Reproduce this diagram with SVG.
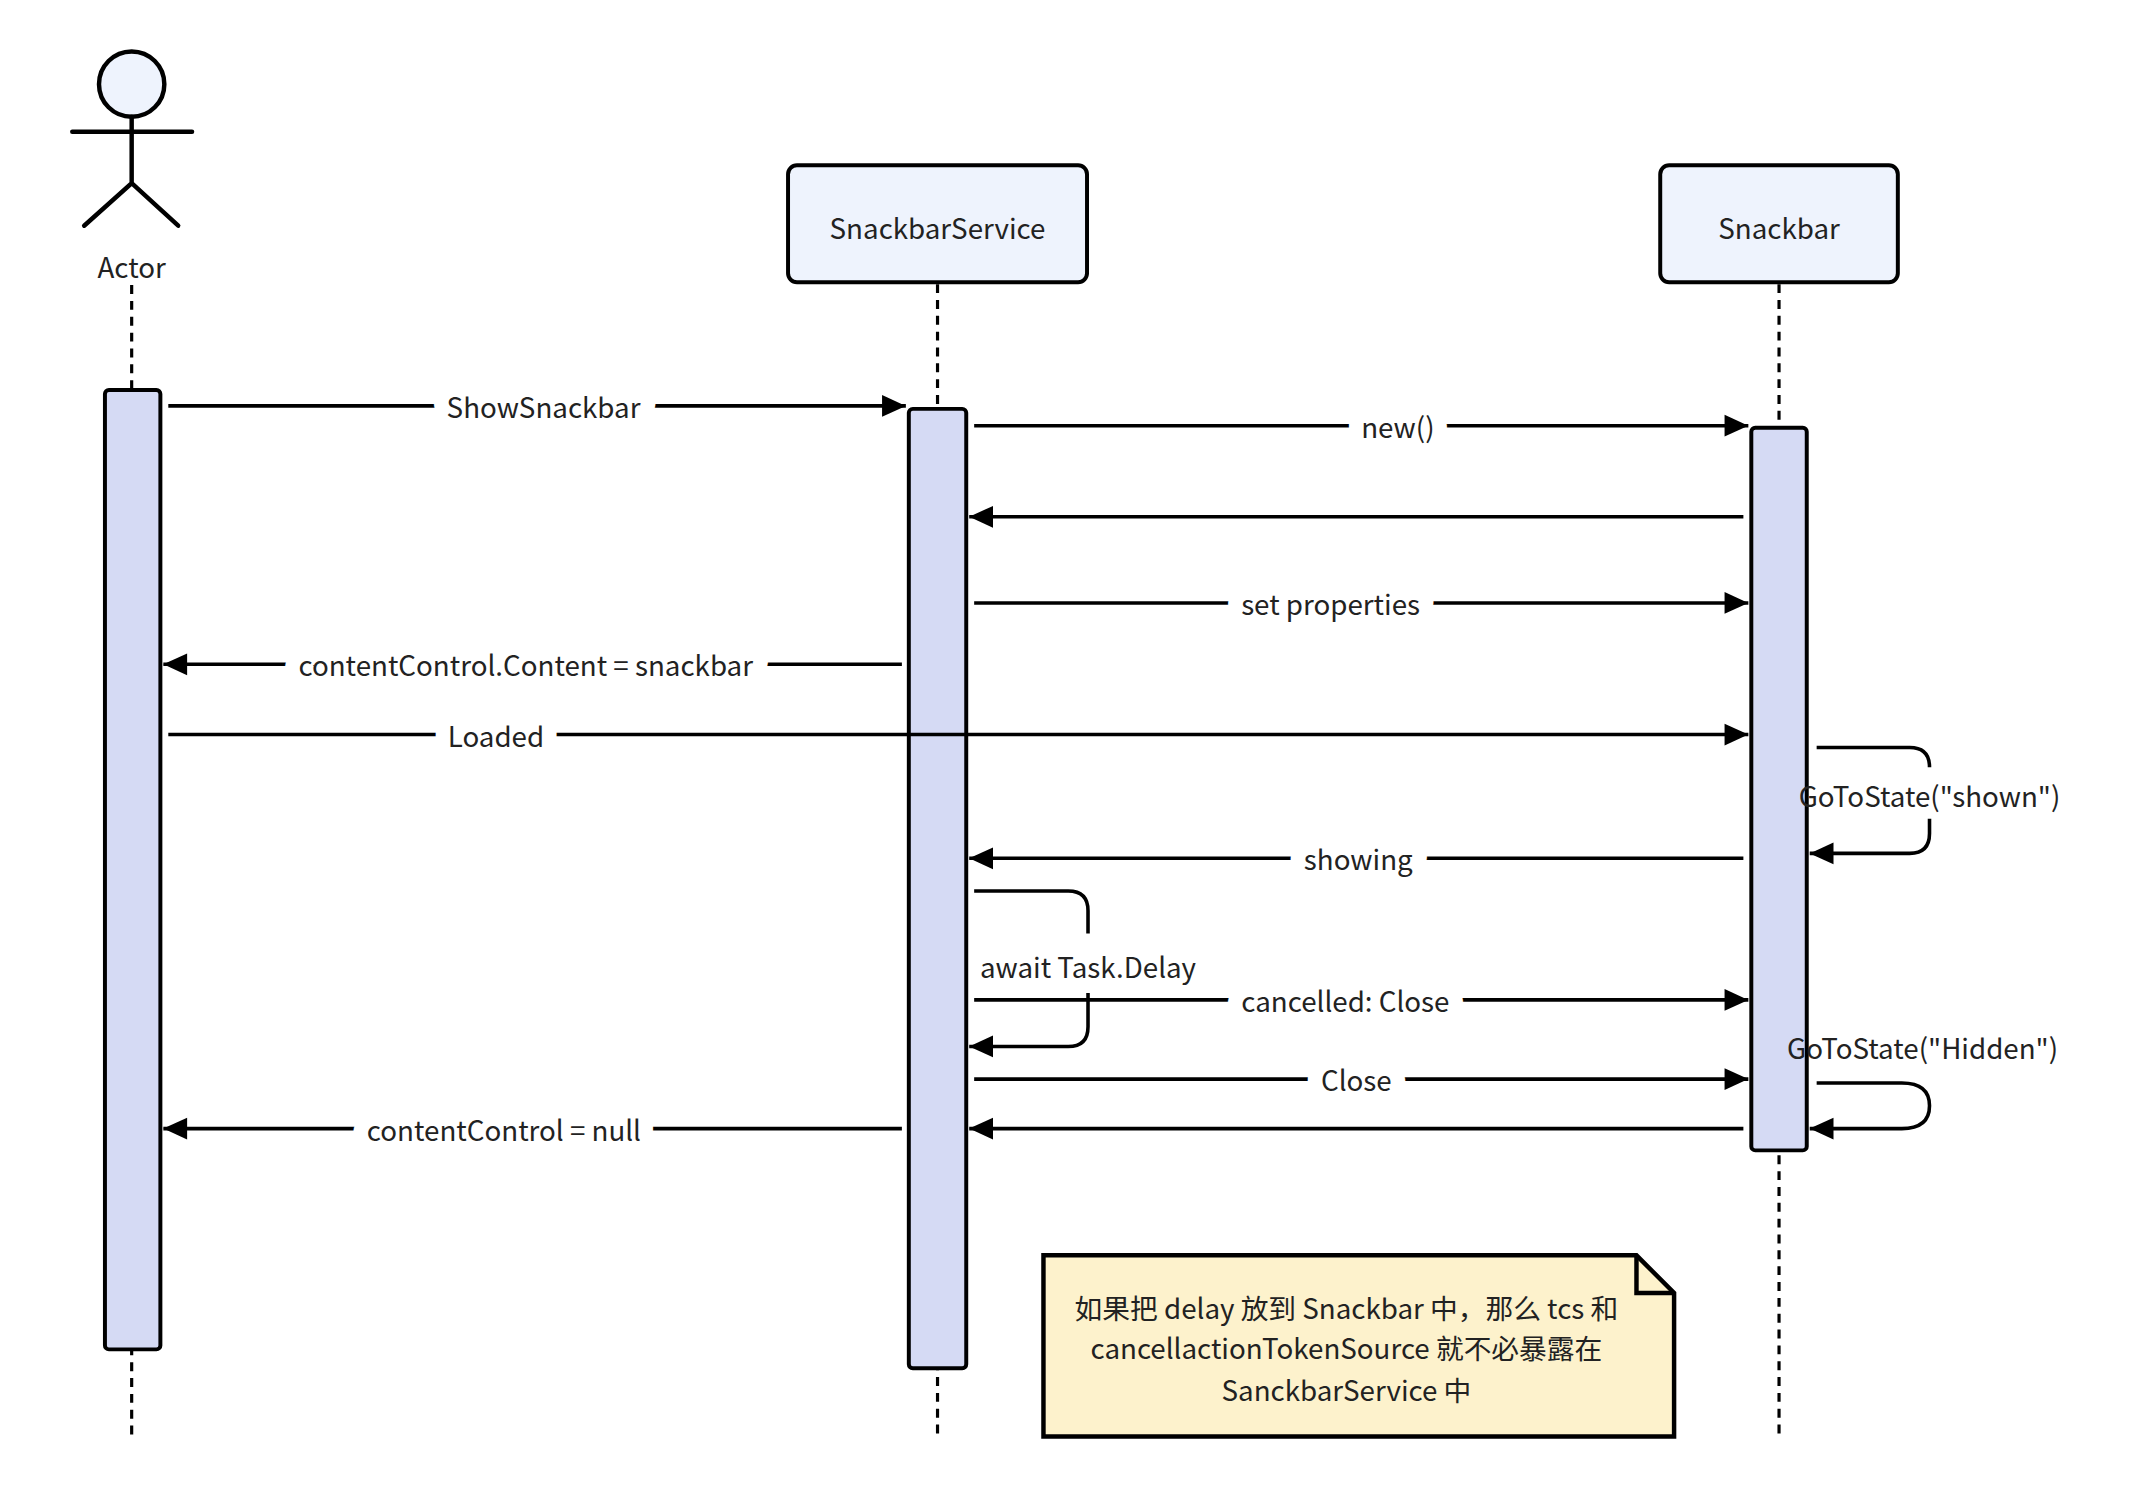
<svg xmlns="http://www.w3.org/2000/svg" width="2130" height="1488" viewBox="0 0 2130 1488">
<defs>
<marker id="ah" markerUnits="userSpaceOnUse" markerWidth="28" markerHeight="28" viewBox="0 0 28 28" refX="26" refY="14" orient="auto"><path d="M2,3 L26,14 L2,25 Z" fill="#000"/></marker>
<style>
text{font-family:"Noto Sans CJK SC","Noto Sans",sans-serif;font-size:28px;fill:#222;text-anchor:middle;dominant-baseline:central}
.lbl{paint-order:stroke;stroke:#fff;stroke-width:30px;stroke-linejoin:round}
.msg{stroke:#000;stroke-width:3.6;fill:none;marker-end:url(#ah)}
.seg{stroke:#000;stroke-width:3.6;fill:none}
.life{stroke:#000;stroke-width:3.2;stroke-dasharray:9 7}
.box{fill:#eef3fd;stroke:#000;stroke-width:4}
.act{fill:#d5daf4;stroke:#000;stroke-width:4}
</style>
</defs>
<rect width="2130" height="1488" fill="#fff"/>
<g transform="scale(0.99)">
<g id="lifelines">
<line class="life" x1="133" y1="288" x2="133" y2="1452"/>
<line class="life" x1="947" y1="287" x2="947" y2="1452"/>
<line class="life" x1="1797" y1="287" x2="1797" y2="1452"/>
</g>
<g id="actor">
<circle cx="133" cy="85" r="33" fill="#eef3fd" stroke="#000" stroke-width="4.5"/>
<path d="M73,133 H194 M133,118 V185 L85,228 M133,185 L180,228" stroke="#000" stroke-width="4.5" fill="none" stroke-linecap="round"/>
<text x="133" y="269">Actor</text>
</g>
<g id="service">
<rect class="box" x="796" y="167" width="302" height="118" rx="9"/>
<text x="947" y="229">SnackbarService</text>
</g>
<g id="snackbar">
<rect class="box" x="1677" y="167" width="240" height="118" rx="9"/>
<text x="1797" y="229">Snackbar</text>
</g>
<g id="activations">
<rect class="act" x="106" y="394" width="56" height="969" rx="4"/>
<rect class="act" x="918" y="413" width="58" height="969" rx="4"/>
<rect class="act" x="1769" y="432" width="56" height="730" rx="4"/>
</g>
<g id="connectors">
<line class="msg" x1="170" y1="410" x2="915" y2="410"/>
<line class="msg" x1="984" y1="430" x2="1766" y2="430"/>
<line class="msg" x1="1761" y1="522" x2="979" y2="522"/>
<line class="msg" x1="984" y1="609" x2="1766" y2="609"/>
<line class="msg" x1="911" y1="671" x2="165" y2="671"/>
<line class="msg" x1="170" y1="742" x2="1766" y2="742"/>
<line class="msg" x1="1761" y1="867" x2="979" y2="867"/>
<line class="msg" x1="984" y1="1010" x2="1766" y2="1010"/>
<line class="msg" x1="984" y1="1090" x2="1766" y2="1090"/>
<line class="msg" x1="1761" y1="1140" x2="979" y2="1140"/>
<line class="msg" x1="911" y1="1140" x2="165" y2="1140"/>
<path class="seg" d="M1835,755 H1929 Q1949,755 1949,775"/>
<path class="msg" d="M1949,827 V842 Q1949,862 1929,862 H1828"/>
<path class="seg" d="M984,900 H1079 Q1099,900 1099,920 V943"/>
<path class="msg" d="M1099,1003 V1037 Q1099,1057 1079,1057 H979"/>
<path class="msg" d="M1835,1094 H1921 Q1949,1094 1949,1117 Q1949,1140 1921,1140 H1828"/>
<text class="lbl" x="549" y="410">ShowSnackbar</text>
<text class="lbl" x="1412" y="430">new()</text>
<text class="lbl" x="1344" y="609">set properties</text>
<text class="lbl" x="531" y="671">contentControl.Content = snackbar</text>
<text class="lbl" x="501" y="742">Loaded</text>
<text class="lbl" x="1372" y="867">showing</text>
<text class="lbl" x="1359" y="1010">cancelled: Close</text>
<text class="lbl" x="1370" y="1090">Close</text>
<text class="lbl" x="509" y="1140">contentControl = null</text>
<text x="1949" y="803">GoToState("shown")</text>
<text x="1099" y="976">await Task.Delay</text>
<text x="1942" y="1058">GoToState("Hidden")</text>
</g>
<g id="note">
<path d="M1054,1268 H1653 L1691,1306 V1451 H1054 Z" fill="#fdf2cc" stroke="#000" stroke-width="4.5"/>
<path d="M1653,1268 V1306 H1691" fill="none" stroke="#000" stroke-width="4.5"/>
<text x="1360" y="1320">如果把 delay 放到 Snackbar 中，那么 tcs 和</text>
<text x="1360" y="1361">cancellactionTokenSource 就不必暴露在</text>
<text x="1360" y="1403">SanckbarService 中</text>
</g>
</g>
</svg>
